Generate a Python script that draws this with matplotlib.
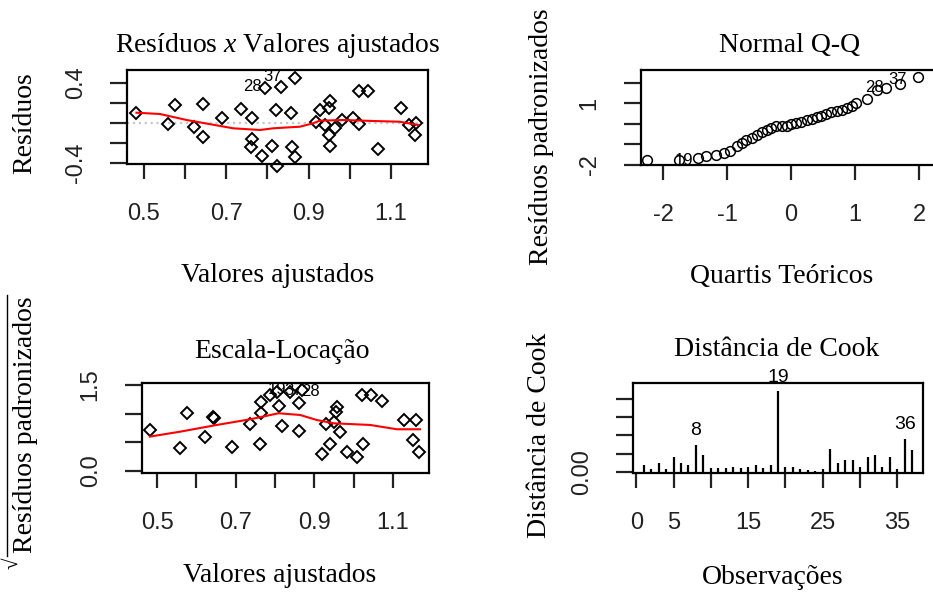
import matplotlib
matplotlib.use('Agg')
import matplotlib.pyplot as plt
from matplotlib.lines import Line2D

plt.rcParams['font.family'] = ['Liberation Sans', 'DejaVu Sans']
plt.rcParams['mathtext.fontset'] = 'custom'
plt.rcParams['mathtext.rm'] = 'Liberation Serif'
plt.rcParams['mathtext.it'] = 'Liberation Serif:italic'

# ---------------- data ----------------
# Panel 1: residuals vs fitted
fv1 = [0.481, 0.559, 0.575, 0.621, 0.644, 0.644, 0.689, 0.737, 0.763, 0.763,
       0.761, 0.787, 0.795, 0.810, 0.820, 0.824, 0.834, 0.858, 0.860, 0.868,
       0.867, 0.917, 0.927, 0.939, 0.950, 0.953, 0.950, 0.953, 0.964, 0.981,
       1.008, 1.023, 1.023, 1.044, 1.069, 1.125, 1.143, 1.158, 1.162]
res1 = [0.097, -0.013, 0.180, -0.037, 0.187, -0.143, 0.047, 0.137, 0.047, -0.157,
        -0.243, -0.330, 0.347, -0.227, 0.130, -0.430, 0.363, 0.097, -0.243, -0.337,
        0.447, 0.007, 0.130, -0.020, 0.147, 0.223, -0.120, -0.227, -0.053, 0.030,
        0.047, -0.013, 0.323, 0.323, -0.263, 0.153, -0.020, -0.120, -0.003]
lo1_x = [0.482, 0.539, 0.604, 0.672, 0.717, 0.782, 0.814, 0.879, 0.911, 0.927,
         0.984, 1.057, 1.121, 1.166]
lo1_y = [0.103, 0.090, 0.030, -0.020, -0.053, -0.070, -0.053, -0.037, -0.003,
         0.023, 0.030, 0.020, 0.013, -0.020]
lab1_text = ['28', '37']
lab1_x = [0.764, 0.812]
lab1_y = [0.368, 0.462]

# Panel 2: Normal Q-Q
qq_x = [-2.26, -1.75, -1.46, -1.33, -1.17, -1.05, -0.95, -0.85, -0.77, -0.70,
        -0.62, -0.54, -0.46, -0.38, -0.31, -0.23, -0.15, -0.07, 0.00, 0.08,
        0.16, 0.24, 0.32, 0.40, 0.47, 0.55, 0.63, 0.71, 0.79, 0.87,
        0.95, 1.02, 1.18, 1.34, 1.49, 1.70, 1.98]
qq_y = [-1.78, -1.74, -1.65, -1.57, -1.49, -1.40, -1.30, -1.05, -0.92, -0.78,
        -0.66, -0.52, -0.40, -0.28, -0.20, -0.12, -0.10, -0.09, -0.02, 0.04,
        0.10, 0.18, 0.24, 0.33, 0.40, 0.50, 0.56, 0.62, 0.70, 0.78,
        0.88, 1.01, 1.20, 1.66, 1.77, 1.93, 2.30]
lab2_text = ['19', '28', '37']
lab2_x = [-1.68, 1.31, 1.67]
lab2_y = [-1.80, 1.77, 2.17]

# Panel 3: scale-location
fv3 = [0.482, 0.559, 0.576, 0.622, 0.643, 0.645, 0.690, 0.737, 0.762, 0.764,
       0.765, 0.788, 0.809, 0.819, 0.805, 0.837, 0.861, 0.861, 0.868, 0.919,
       0.940, 0.929, 0.957, 0.955, 0.950, 0.966, 0.983, 1.008, 1.025, 1.022,
       1.044, 1.073, 1.127, 1.159, 1.151, 1.165]
sq3 = [0.716, 0.396, 1.007, 0.599, 0.948, 0.920, 0.424, 0.815, 0.471, 1.007,
       1.200, 1.330, 1.140, 0.785, 1.380, 1.380, 1.180, 0.698, 1.410, 0.291,
       0.471, 0.820, 1.120, 1.035, 0.860, 0.675, 0.337, 0.250, 0.471, 1.326,
       1.326, 1.227, 0.890, 0.890, 0.541, 0.337]
lo3_x = [0.482, 0.559, 0.652, 0.737, 0.809, 0.864, 0.906, 0.949, 1.042, 1.110, 1.169]
lo3_y = [0.600, 0.686, 0.803, 0.902, 1.007, 0.977, 0.890, 0.832, 0.803, 0.728, 0.728]
lab3_text = ['19', '37', '28']
lab3_x = [0.805, 0.848, 0.890]
lab3_y = [1.43, 1.41, 1.38]

# Panel 4: Cook's distance
obs = list(range(1, 38))
cook = [0.020, 0.009, 0.025, 0.009, 0.041, 0.025, 0.020, 0.075, 0.047, 0.011,
        0.011, 0.012, 0.014, 0.011, 0.015, 0.020, 0.012, 0.020, 0.221, 0.014,
        0.014, 0.009, 0.005, 0.003, 0.009, 0.064, 0.025, 0.032, 0.032, 0.014,
        0.041, 0.047, 0.015, 0.041, 0.009, 0.091, 0.059]
lab4_text = ['8', '19', '36']
lab4_idx = [8, 19, 36]

# tick values / labels
x13_ticks = [0.5, 0.6, 0.7, 0.8, 0.9, 1.0, 1.1]
x13_labels = ['0.5', '', '0.7', '', '0.9', '', '1.1']
y1_ticks = [-0.4, -0.2, 0.0, 0.2, 0.4]
y1_labels = ['-0.4', '', '', '', '0.4']
x2_ticks = [-2, -1, 0, 1, 2]
x2_labels = ['-2', '-1', '0', '1', '2']
y2_ticks = [-2, -1, 0, 1, 2]
y2_labels = ['-2', '', '', '1', '']
y3_ticks = [0.0, 0.5, 1.0, 1.5]
y3_labels = ['0.0', '', '', '1.5']
x4_ticks = [0, 5, 10, 15, 20, 25, 30, 35]
x4_labels = ['0', '5', '', '15', '', '25', '', '35']
y4_ticks = [0.0, 0.05, 0.10, 0.15, 0.20]
y4_labels = ['0.00', '', '', '', '']

# ---------------- figure ----------------
W, H = 933, 594
fig = plt.figure(figsize=(W / 100, H / 100), dpi=100)
SERIF = 'Liberation Serif'
TFS = 20
TICKFS = 17


def px_axes(x0, y0, x1, y1):
    return fig.add_axes([x0 / W, 1 - y1 / H, (x1 - x0) / W, (y1 - y0) / H])


def style(ax, xt, xl, yt, yl):
    for s in ax.spines.values():
        s.set_linewidth(1.6)
    ax.set_xticks(xt)
    ax.set_xticklabels(xl)
    ax.set_yticks(yt)
    ax.set_yticklabels(yl, rotation=90, va='center')
    ax.tick_params(axis='x', direction='out', length=11, width=1.6, pad=17,
                   labelsize=TICKFS, colors='#222222')
    ax.tick_params(axis='y', direction='out', length=12, width=1.6, pad=17,
                   labelsize=TICKFS, colors='#222222')


def ftext(x, y, s, rot=0, **kw):
    fig.text(x / W, 1 - y / H, s, rotation=rot, ha='center', va='center',
             family=SERIF, fontsize=TFS, **kw)


mk = dict(marker='D', ms=6.6, mfc='none', mec='black', mew=1.4, ls='none')

# Panel 1
ax1 = px_axes(127, 70, 428, 164)
ax1.axhline(0, color='#c8c8c8', ls=':', lw=1.6)
ax1.plot(fv1, res1, clip_on=False, **mk)
ax1.plot(lo1_x, lo1_y, color='red', lw=1.5)
for t, x, y in zip(lab1_text, lab1_x, lab1_y):
    ax1.text(x, y, t, ha='center', va='center', fontsize=12)
ax1.set_xlim(0.459, 1.19)
ax1.set_ylim(-0.41, 0.53)
style(ax1, x13_ticks, x13_labels, y1_ticks, y1_labels)

# Panel 2
ax2 = px_axes(641, 70, 942, 165)
ax2.plot(qq_x, qq_y, marker='o', ms=7, mfc='none', mec='black', mew=1.1,
         ls='none', clip_on=False)
for t, x, y in zip(lab2_text, lab2_x, lab2_y):
    ax2.text(x, y, t, ha='center', va='center', fontsize=12)
ax2.set_xlim(-2.35, 2.36)
ax2.set_ylim(-2.0, 2.63)
style(ax2, x2_ticks, x2_labels, y2_ticks, y2_labels)

# Panel 3
ax3 = px_axes(142, 383, 429, 473)
ax3.plot(fv3, sq3, clip_on=False, **mk)
ax3.plot(lo3_x, lo3_y, color='red', lw=1.5)
for t, x, y in zip(lab3_text, lab3_x, lab3_y):
    ax3.text(x, y, t, ha='center', va='center', fontsize=12)
ax3.set_xlim(0.4618, 1.1916)
ax3.set_ylim(-0.035, 1.535)
style(ax3, x13_ticks, x13_labels, y3_ticks, y3_labels)

# Panel 4
ax4 = px_axes(633, 383, 923, 473)
ax4.vlines(obs, 0, cook, color='black', lw=1.6)
for t, i in zip(lab4_text, lab4_idx):
    ax4.annotate(t, (obs[i - 1], cook[i - 1]), xytext=(0, 10),
                 textcoords='offset points', ha='center', va='center',
                 fontsize=14, annotation_clip=False)
ax4.set_xlim(-0.44, 38.44)
ax4.set_ylim(-0.0027, 0.2432)
style(ax4, x4_ticks, x4_labels, y4_ticks, y4_labels)

# Titles and axis labels
ftext(278, 45, r'Resíduos $\mathit{x}$ Valores ajustados')
ftext(790, 45, 'Normal Q-Q')
ftext(282, 352, 'Escala-Locação')
ftext(777, 350, 'Distância de Cook')

ftext(278, 275, 'Valores ajustados')
ftext(782, 277, 'Quartis Teóricos')
ftext(280, 575, 'Valores ajustados')
ftext(773, 577, 'Observações')

ftext(25, 123, 'Resíduos', rot=90)
ftext(542, 137, 'Resíduos padronizados', rot=90)
ftext(26, 425, 'Resíduos padronizados', rot=90)
ftext(540, 435, 'Distância de Cook', rot=90)

# radical sign for sqrt(|Resíduos padronizados|)
fig.text(13 / W, 1 - 563 / H, '\u221a', rotation=90, ha='center', va='center',
         family=SERIF, fontsize=15)
fig.add_artist(Line2D([7 / W, 7 / W], [1 - 556 / H, 1 - 295 / H],
                      color='black', lw=1.0))

fig.savefig('out.png', dpi=100)
